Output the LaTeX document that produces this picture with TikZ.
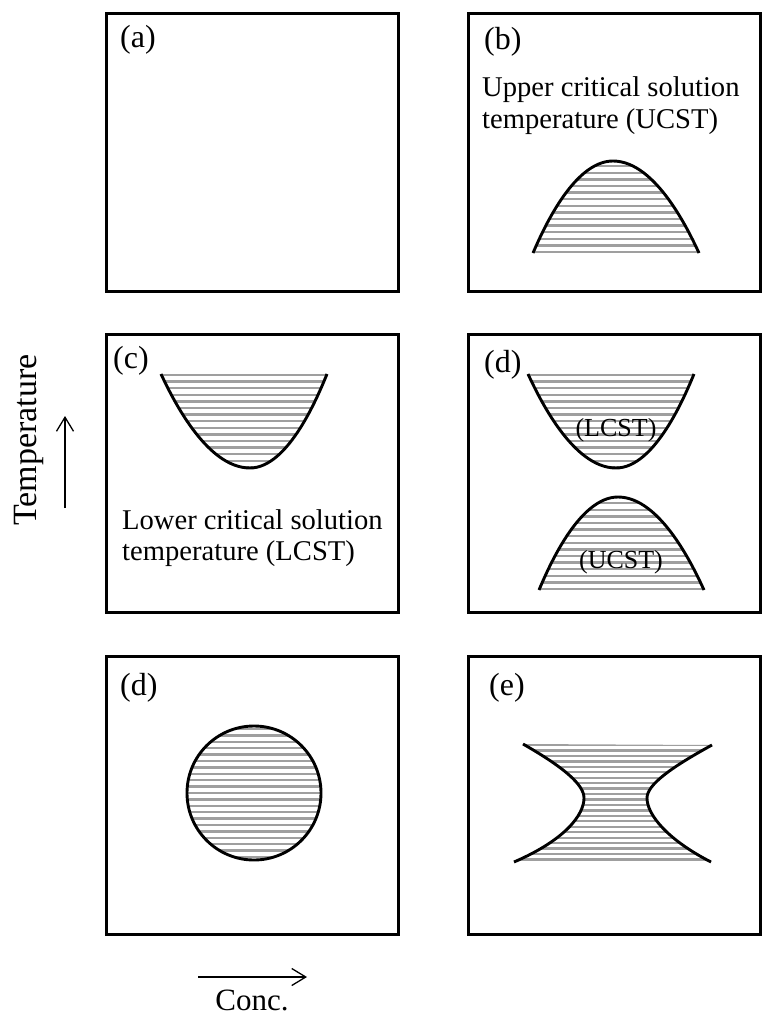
\documentclass[tikz,border=0pt]{standalone}
\usepackage{fontspec}
\setmainfont{Liberation Serif}
\usetikzlibrary{arrows.meta}

\begin{document}
\begin{tikzpicture}[x=1pt,y=-1pt,
 panel/.style={draw=black,line width=3pt},
 rim/.style={draw=black,line width=2.9pt},
 hatch/.style={draw=gray!75,line width=2.3pt},
 tag/.style={inner sep=0pt,anchor=west,font=\fontsize{32}{36}\selectfont},
 txt/.style={inner sep=0pt,anchor=base west,font=\fontsize{28.6}{32}\selectfont},
 inlbl/.style={inner sep=0pt,anchor=base,font=\fontsize{26}{30}\selectfont},
 ar/.style={draw,line width=1.3pt,-{Straight Barb[length=14pt,width=17pt,line width=1.3pt]}}]
\path[fill=white,use as bounding box] (0,0) rectangle (763,1021);
% frames
\draw[panel] (106.5,13.5) rectangle (398.5,291);
\draw[panel] (468.5,13.5) rectangle (760.5,291);
\draw[panel] (106.5,334.5) rectangle (398.5,612);
\draw[panel] (468.5,334.5) rectangle (760.5,612);
\draw[panel] (106.5,656.5) rectangle (398.5,934);
\draw[panel] (468.5,656.5) rectangle (760.5,934);
% (b) UCST dome
\begin{scope}
 \clip (533,253) parabola bend (613,161) (699,253) -- cycle;
 \foreach \k in {0,...,14} \draw[hatch] (520,{252-6.6*\k}) -- (710,{252-6.6*\k});
\end{scope}
\draw[rim] (533,253) parabola bend (613,161) (699,253);
% (c) LCST bowl
\begin{scope}
 \clip (161,374) parabola bend (250,468) (327,374) -- cycle;
 \foreach \k in {0,...,14} \draw[hatch] (150,{375+6.6*\k}) -- (340,{375+6.6*\k});
\end{scope}
\draw[rim] (161,374) parabola bend (250,468) (327,374);
% (d) both
\begin{scope}
 \clip (528,374) parabola bend (616,468) (694,374) -- cycle;
 \foreach \k in {0,...,14} \draw[hatch] (515,{375+6.6*\k}) -- (705,{375+6.6*\k});
\end{scope}
\draw[rim] (528,374) parabola bend (616,468) (694,374);
\begin{scope}
 \clip (539,590) parabola bend (618,497) (704,590) -- cycle;
 \foreach \k in {0,...,14} \draw[hatch] (525,{589-6.6*\k}) -- (715,{589-6.6*\k});
\end{scope}
\draw[rim] (539,590) parabola bend (618,497) (704,590);
% closed loop
\begin{scope}
 \clip (254,793) circle (67pt);
 \foreach \k in {0,...,21} \draw[hatch] (180,{729+6.4*\k}) -- (330,{729+6.4*\k});
\end{scope}
\draw[rim] (254,793) circle (67pt);
% (e) hourglass
\begin{scope}
 \clip (523,744) .. controls (565,768) and (584,785) .. (584,798)
   .. controls (584,815) and (565,840) .. (514,862) -- (711,862)
   .. controls (668,840) and (647,815) .. (647,798)
   .. controls (647,785) and (670,768) .. (712,745) -- cycle;
 \foreach \k in {0,...,21} \draw[hatch] (505,{745+5.45*\k}) -- (720,{745+5.45*\k});
\end{scope}
\draw[rim] (523,744) .. controls (565,768) and (584,785) .. (584,798)
   .. controls (584,815) and (565,840) .. (514,862);
\draw[rim] (712,745) .. controls (670,768) and (647,785) .. (647,798)
   .. controls (647,815) and (668,840) .. (711,862);
% labels
\node[tag] (la) at (120,40) {(a)};
\node[tag] (lb) at (484,42) {(b)};
\node[tag] (lc) at (113,361) {(c)};
\node[tag] (ld) at (484,365) {(d)};
\node[tag] (ldd) at (120,688) {(d)};
\node[tag] (le) at (489,688) {(e)};
\node[txt] (ub1) at (482,96) {Upper critical solution};
\node[txt] (ub2) at (482,128) {temperature (UCST)};
\node[txt] (lc1) at (122,529) {Lower critical solution};
\node[txt] (lc2) at (122,560) {temperature (LCST)};
\node[inlbl] (dl) at (616,436) {(LCST)};
\node[inlbl] (du) at (621,568) {(UCST)};
% axes
\node[rotate=90,inner sep=0pt,font=\fontsize{34}{36}\selectfont] (temp) at (29,440) {Temperature};
\coordinate (t0) at (65,508);
\coordinate (t1) at (65,416);
\path[ar] (t0) -- (t1);
\coordinate (c0) at (198,977);
\coordinate (c1) at (307,977);
\path[ar] (c0) -- (c1);
\node[inner sep=0pt,font=\fontsize{31}{34}\selectfont] (conc) at (252,1000) {Conc.};
\end{tikzpicture}
\end{document}
